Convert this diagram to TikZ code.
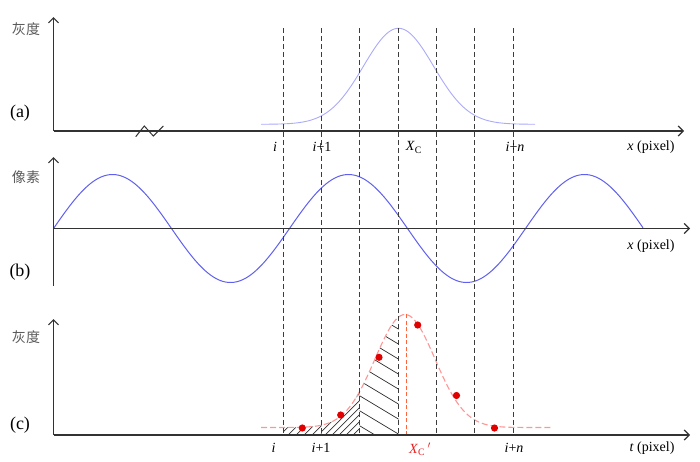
\documentclass[tikz,border=0pt]{standalone}
\usepackage{fontspec}
\setmainfont{Liberation Serif}
\newfontfamily\cjk{Noto Sans CJK SC}
\usetikzlibrary{arrows.meta}
\definecolor{axisgray}{RGB}{50,50,50}
\definecolor{dashgray}{RGB}{60,60,60}
\definecolor{lightblue}{RGB}{170,170,250}
\definecolor{sineblue}{RGB}{95,95,240}
\definecolor{lightred}{RGB}{255,150,150}
\definecolor{dotred}{RGB}{225,0,0}
\definecolor{xcred}{RGB}{255,100,60}
\definecolor{labred}{RGB}{230,30,30}
\definecolor{cjkgray}{RGB}{90,90,90}
\tikzset{
  axisline/.style={draw=axisgray, line width=1.2pt, -{Straight Barb[length=5pt,width=10pt]}},
  plainaxis/.style={draw=axisgray, line width=1.2pt},
  gridline/.style={draw=dashgray, line width=1.1pt, dash pattern=on 5pt off 3pt},
  lab/.style={font=\fontsize{14}{16}\selectfont, inner sep=0pt},
  panellab/.style={font=\fontsize{18}{20}\selectfont, inner sep=0pt},
  cjklab/.style={font=\cjk\fontsize{14}{16}\selectfont, text=cjkgray, inner sep=0pt},
  hatch/.style={draw=black!80, line width=0.7pt},
  reddot/.style={fill=dotred, draw=none},
}
\begin{document}
\begin{tikzpicture}[x=1pt,y=-1pt]
\useasboundingbox (0,0) rectangle (700,461);
% ---------- coordinates for axes
\coordinate (ao) at (53.5,131); \coordinate (at) at (53.5,17); \coordinate (ar) at (684,131);
\coordinate (bo) at (53.5,228.5); \coordinate (bt) at (53.5,157); \coordinate (bb) at (53.5,286); \coordinate (br) at (690,228.5);
\coordinate (co) at (53.5,435); \coordinate (ct) at (53.5,319); \coordinate (cr) at (690,435);

% ---------- panel (a) gaussian
\draw[lightblue, line width=0.9pt] plot[domain=261:535, samples=120, smooth] (\x, {124.3 - 96*exp(-((\x-398.5)/35)^2/2)});

% ---------- panel (b) sine
\draw[sineblue, line width=1pt] plot[domain=53.5:643, samples=200, smooth] (\x, {228.5 - 54*sin((\x-53.5)/236*360)});

% ---------- panel (c) hatching
\begin{scope}
  \clip (283.5,435) -- plot[domain=283.5:321.5, samples=30] (\x, {427.5 - 113*exp(-((\x-405)/30)^2/2)}) -- (321.5,435) -- cycle;
  \foreach \k in {280,288,...,320} \draw[hatch] (\k,435) -- ++(20,-20);
\end{scope}
\begin{scope}
  \clip (321.5,435) -- plot[domain=321.5:359.5, samples=30] (\x, {427.5 - 113*exp(-((\x-405)/30)^2/2)}) -- (359.5,435) -- cycle;
  \foreach \k in {318,325,...,360} \draw[hatch] (\k,435) -- ++(50,-50);
\end{scope}
\begin{scope}
  \clip (359.5,435) -- plot[domain=359.5:398.5, samples=30] (\x, {427.5 - 113*exp(-((\x-405)/30)^2/2)}) -- (398.5,435) -- cycle;
  \foreach \k in {240,255,...,450} \draw[hatch] (350,\k) -- ++(60,36);
\end{scope}

% ---------- panel (c) dashed gaussian
\draw[lightred, line width=1.1pt, dash pattern=on 6pt off 3pt] plot[domain=261:552, samples=120, smooth] (\x, {427.5 - 113*exp(-((\x-405)/30)^2/2)});

% ---------- vertical dashed grid lines
\foreach \xx [count=\i] in {283.5,321.5,359.5,398.5,436.5,474.5,513.5} {
  \coordinate (gt\i) at (\xx,28);
  \coordinate (gb\i) at (\xx,435);
  \draw[gridline] (gt\i) -- (gb\i);
}

% ---------- centroid line in (c)
\coordinate (xct) at (406.5,314); \coordinate (xcb) at (406.5,435);
\draw[xcred, line width=1.2pt, dash pattern=on 4pt off 2.5pt] (xct) -- (xcb);

% ---------- red samples
\foreach \px/\py [count=\j] in {302.3/428, 340.7/415, 379/357.3, 417.7/325, 456.5/395.5, 494.5/428} {
  \fill[reddot] (\px,\py) circle (3.6);
}

% ---------- axes
\draw[axisline] (ao) -- (at);
\draw[axisline] (ao) -- (ar);
\draw[axisline] (bb) -- (bt);
\draw[axisline] (bo) -- (br);
\draw[axisline] (co) -- (ct);
\draw[axisline] (co) -- (cr);

% break mark on (a)
\coordinate (z1) at (135.7,136.7); \coordinate (z2) at (144.3,126);
\coordinate (z3) at (153.3,136); \coordinate (z4) at (163.3,126);
\draw[plainaxis, line width=1pt] (z1) -- (z2) -- (z3) -- (z4);

% ---------- labels
\node[cjklab] (ya) at (26,29) {灰度};
\node[cjklab] (yb) at (26,177) {像素};
\node[cjklab] (yc) at (26,337) {灰度};
\node[panellab] (pa) at (20,113) {(a)};
\node[panellab] (pb) at (20,272) {(b)};
\node[panellab] (pc) at (20,425) {(c)};

\node[lab] (ai) at (275,147) {\textit{i}};
\node[lab] (ai1) at (322,147) {\textit{i}+1};
\node[lab] (axc) at (414,147.5) {\textit{X}\textsubscript{C}};
\node[lab] (ain) at (515,147) {\textit{i}+\textit{n}};
\node[lab] (ax) at (651,147) {\textit{x} (pixel)};

\node[lab] (bx) at (651,246.5) {\textit{x} (pixel)};

\node[lab] (ci) at (273.5,448) {\textit{i}};
\node[lab] (ci1) at (321,448) {\textit{i}+1};
\node[lab, text=labred] (cxc) at (420,449) {\textit{X}\textsubscript{C}\,$'$};
\node[lab] (cin) at (514,448) {\textit{i}+\textit{n}};
\node[lab] (ct2) at (652,448) {\textit{t} (pixel)};
\end{tikzpicture}
\end{document}
